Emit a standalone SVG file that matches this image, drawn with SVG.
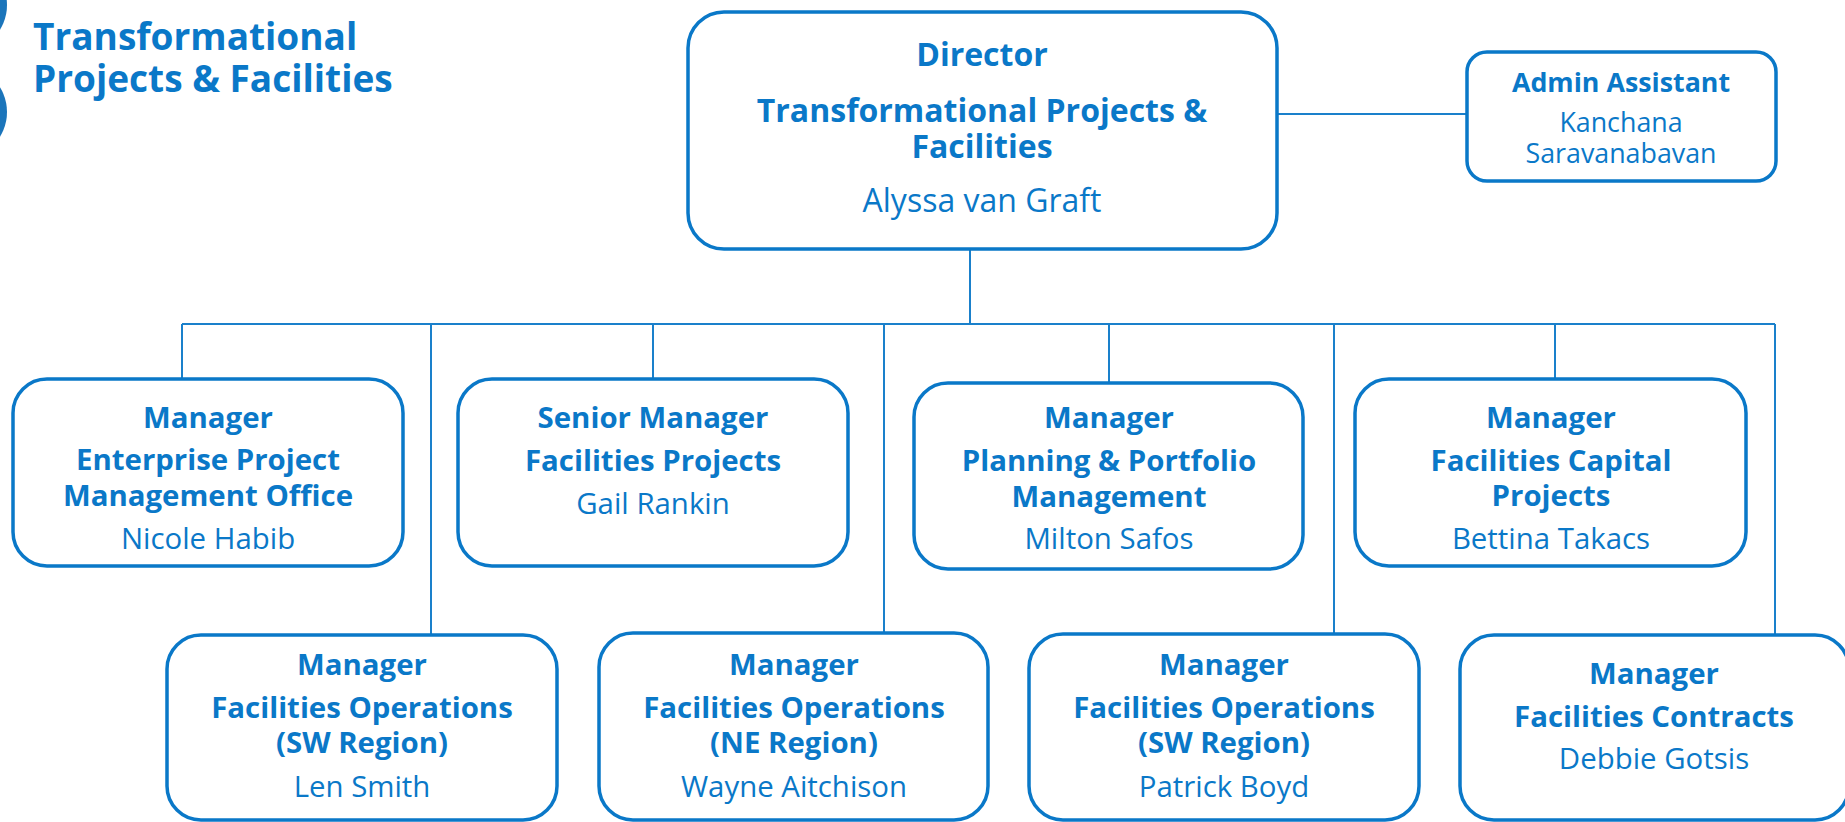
<svg xmlns="http://www.w3.org/2000/svg" width="1845" height="822" viewBox="0 0 1845 822">
<style>
.box{fill:#ffffff;stroke:#0a78c8;stroke-width:3.5}
.ln{fill:none;stroke:#1a80cb;stroke-width:2}
text{font-family:"Open Sans","Noto Sans","Liberation Sans",sans-serif;fill:#0a78c8;text-anchor:middle}
.b{font-weight:700;font-size:29.4px}
.r{font-weight:400;font-size:29.4px}
.db{font-weight:700;font-size:32px}
.dr{font-weight:400;font-size:32px}
.ab{font-weight:700;font-size:26.8px}
.ar{font-weight:400;font-size:26.8px}
.title{font-weight:700;font-size:37px;text-anchor:start}
</style>
<rect width="1845" height="822" fill="#ffffff"/>
<g id="decor">
<circle cx="-40" cy="5" r="47" fill="#1b75bb"/>
<circle cx="-40" cy="112" r="47" fill="#1b75bb"/>
<text class="title" x="33" y="50">Transformational</text>
<text class="title" x="33" y="92">Projects &amp; Facilities</text>
</g>
<g id="connectors">
<line class="ln" x1="1277" y1="114" x2="1467" y2="114"/>
<line class="ln" x1="970" y1="249" x2="970" y2="324"/>
<line class="ln" x1="182" y1="324" x2="1775" y2="324"/>
<line class="ln" x1="182" y1="324" x2="182" y2="379"/>
<line class="ln" x1="653" y1="324" x2="653" y2="379"/>
<line class="ln" x1="1109" y1="324" x2="1109" y2="383"/>
<line class="ln" x1="1555" y1="324" x2="1555" y2="379"/>
<line class="ln" x1="431" y1="324" x2="431" y2="635"/>
<line class="ln" x1="884" y1="324" x2="884" y2="633"/>
<line class="ln" x1="1334" y1="324" x2="1334" y2="634"/>
<line class="ln" x1="1775" y1="324" x2="1775" y2="635"/>
</g>
<g id="director">
<rect class="box" x="688" y="12" width="589" height="237" rx="36"/>
<text class="db" x="982" y="66">Director</text>
<text class="db" x="982" y="122">Transformational Projects &amp;</text>
<text class="db" x="982" y="158">Facilities</text>
<text class="dr" x="982" y="212">Alyssa van Graft</text>
</g>
<g id="admin">
<rect class="box" x="1467" y="52" width="309" height="129" rx="20"/>
<text class="ab" x="1621" y="92">Admin Assistant</text>
<text class="ar" x="1621" y="132">Kanchana</text>
<text class="ar" x="1621" y="163">Saravanabavan</text>
</g>
<g id="epmo">
<rect class="box" x="13" y="379" width="390" height="187" rx="34"/>
<text class="b" x="208" y="428">Manager</text>
<text class="b" x="208" y="470">Enterprise Project</text>
<text class="b" x="208" y="506">Management Office</text>
<text class="r" x="208" y="549">Nicole Habib</text>
</g>
<g id="facprojects">
<rect class="box" x="458" y="379" width="390" height="187" rx="34"/>
<text class="b" x="653" y="428">Senior Manager</text>
<text class="b" x="653" y="471">Facilities Projects</text>
<text class="r" x="653" y="514">Gail Rankin</text>
</g>
<g id="planning">
<rect class="box" x="914" y="383" width="389" height="186" rx="34"/>
<text class="b" x="1109" y="428">Manager</text>
<text class="b" x="1109" y="471">Planning &amp; Portfolio</text>
<text class="b" x="1109" y="507">Management</text>
<text class="r" x="1109" y="549">Milton Safos</text>
</g>
<g id="capital">
<rect class="box" x="1355" y="379" width="391" height="187" rx="34"/>
<text class="b" x="1551" y="428">Manager</text>
<text class="b" x="1551" y="471">Facilities Capital</text>
<text class="b" x="1551" y="506">Projects</text>
<text class="r" x="1551" y="549">Bettina Takacs</text>
</g>
<g id="ops-sw1">
<rect class="box" x="167" y="635" width="390" height="185" rx="34"/>
<text class="b" x="362" y="675">Manager</text>
<text class="b" x="362" y="718">Facilities Operations</text>
<text class="b" x="362" y="753">(SW Region)</text>
<text class="r" x="362" y="797">Len Smith</text>
</g>
<g id="ops-ne">
<rect class="box" x="599" y="633" width="389" height="187" rx="34"/>
<text class="b" x="794" y="675">Manager</text>
<text class="b" x="794" y="718">Facilities Operations</text>
<text class="b" x="794" y="753">(NE Region)</text>
<text class="r" x="794" y="797">Wayne Aitchison</text>
</g>
<g id="ops-sw2">
<rect class="box" x="1029" y="634" width="390" height="186" rx="34"/>
<text class="b" x="1224" y="675">Manager</text>
<text class="b" x="1224" y="718">Facilities Operations</text>
<text class="b" x="1224" y="753">(SW Region)</text>
<text class="r" x="1224" y="797">Patrick Boyd</text>
</g>
<g id="contracts">
<rect class="box" x="1460" y="635" width="389" height="185" rx="34"/>
<text class="b" x="1654" y="684">Manager</text>
<text class="b" x="1654" y="727">Facilities Contracts</text>
<text class="r" x="1654" y="769">Debbie Gotsis</text>
</g>
</svg>
